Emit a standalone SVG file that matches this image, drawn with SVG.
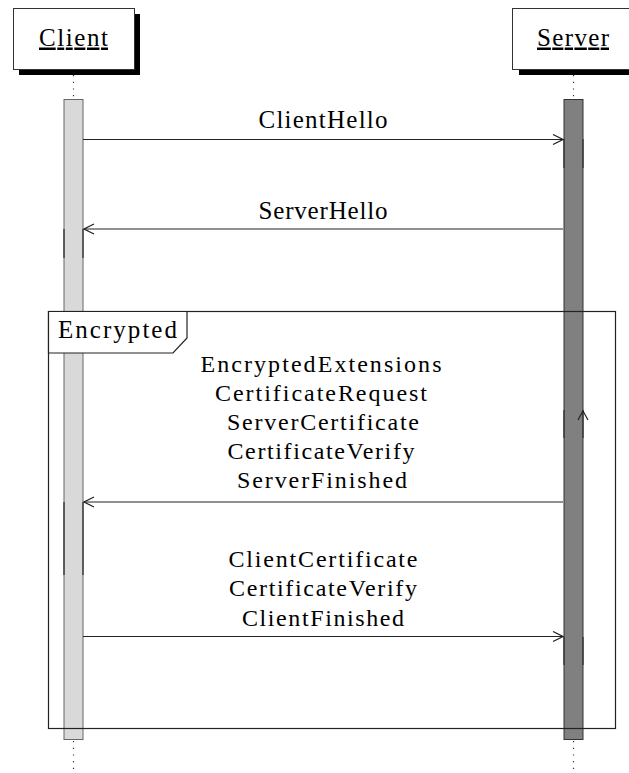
<svg xmlns="http://www.w3.org/2000/svg" width="629" height="773" viewBox="0 0 629 773">
<style>
text { font-family: 'Liberation Serif', 'Times New Roman', serif; font-size: 25px; fill: #000; }
.c { text-anchor: middle; }
.m { font-size: 24px; }
.box { fill: #fff; stroke: #333; stroke-width: 1; }
.shadow { fill: #000; }
.life { stroke: #333; stroke-width: 1.2; stroke-dasharray: 1.2 5.5; fill: none; }
.barc { fill: #d9d9d9; stroke: #666; stroke-width: 1; }
.bars { fill: #808080; stroke: #333; stroke-width: 1; }
.msg { stroke: #222; stroke-width: 1.2; fill: none; }
.edge { stroke: #333; stroke-width: 1.3; }
.frame { fill: none; stroke: #222; stroke-width: 1.2; }
.tag { fill: #fff; stroke: #222; stroke-width: 1.2; }
</style>
<defs>
<marker id="open" viewBox="0 0 12 12" refX="11" refY="6" markerWidth="12" markerHeight="12" markerUnits="userSpaceOnUse" orient="auto">
<path d="M1,1 L11,6 L1,11" fill="none" stroke="#222" stroke-width="1.2"/>
</marker>
</defs>

<g id="node-client">
<rect class="shadow" x="19" y="14" width="121" height="61"/>
<rect class="box" x="13.5" y="8.5" width="121" height="61"/>
<text class="c" x="73.5" y="45.5" textLength="69" text-decoration="underline">Client</text>
<line class="life" x1="73.5" y1="75" x2="73.5" y2="99"/>
<line class="life" x1="73.5" y1="741" x2="73.5" y2="773"/>
<rect class="barc" x="64" y="99.5" width="19" height="640"/>
<line class="edge" x1="64" y1="229" x2="64" y2="258"/>
<line class="edge" x1="83" y1="229" x2="83" y2="258"/>
<line class="edge" x1="64" y1="502" x2="64" y2="575"/>
<line class="edge" x1="83" y1="502" x2="83" y2="575"/>
</g>

<g id="node-server">
<rect class="shadow" x="519" y="14" width="121" height="61"/>
<rect class="box" x="512.5" y="8.5" width="121" height="61"/>
<text class="c" x="573" y="45.5" textLength="72" text-decoration="underline">Server</text>
<line class="life" x1="573.5" y1="75" x2="573.5" y2="99"/>
<line class="life" x1="573.5" y1="741" x2="573.5" y2="773"/>
<rect class="bars" x="564" y="99.5" width="19" height="640"/>
<line class="edge" x1="564" y1="139" x2="564" y2="168"/>
<line class="edge" x1="583" y1="139" x2="583" y2="168"/>
<line class="edge" x1="564" y1="410" x2="564" y2="438"/>
<line class="edge" x1="583" y1="410" x2="583" y2="438"/>
<line class="edge" x1="564" y1="637" x2="564" y2="665"/>
<line class="edge" x1="583" y1="637" x2="583" y2="665"/>
</g>

<g id="frame-encrypted">
<rect class="frame" x="48.5" y="311.5" width="567" height="417"/>
<path class="tag" d="M48.5,311.5 H187 V338 L173,353 H48.5 Z"/>
<text x="58" y="338" textLength="119">Encrypted</text>
</g>

<g id="connectors">
<line class="msg" x1="83" y1="139.5" x2="563" y2="139.5" marker-end="url(#open)"/>
<line class="msg" x1="563" y1="229" x2="84" y2="229" marker-end="url(#open)"/>
<line class="msg" x1="563" y1="502" x2="84" y2="502" marker-end="url(#open)"/>
<line class="msg" x1="83" y1="636.5" x2="563" y2="636.5" marker-end="url(#open)"/>
<path class="msg" d="M578,420 L583,411 L588,420"/>
</g>

<g id="labels">
<text class="c" x="323" y="128" textLength="129">ClientHello</text>
<text class="c" x="323" y="219" textLength="129">ServerHello</text>
<text class="c m" x="321" y="372" textLength="241">EncryptedExtensions</text>
<text class="c m" x="321" y="401" textLength="212">CertificateRequest</text>
<text class="c m" x="323" y="430" textLength="192">ServerCertificate</text>
<text class="c m" x="321" y="459" textLength="187">CertificateVerify</text>
<text class="c m" x="322" y="488" textLength="170">ServerFinished</text>
<text class="c m" x="323" y="567" textLength="189">ClientCertificate</text>
<text class="c m" x="323" y="596" textLength="188">CertificateVerify</text>
<text class="c m" x="323" y="626" textLength="162">ClientFinished</text>
</g>
</svg>
